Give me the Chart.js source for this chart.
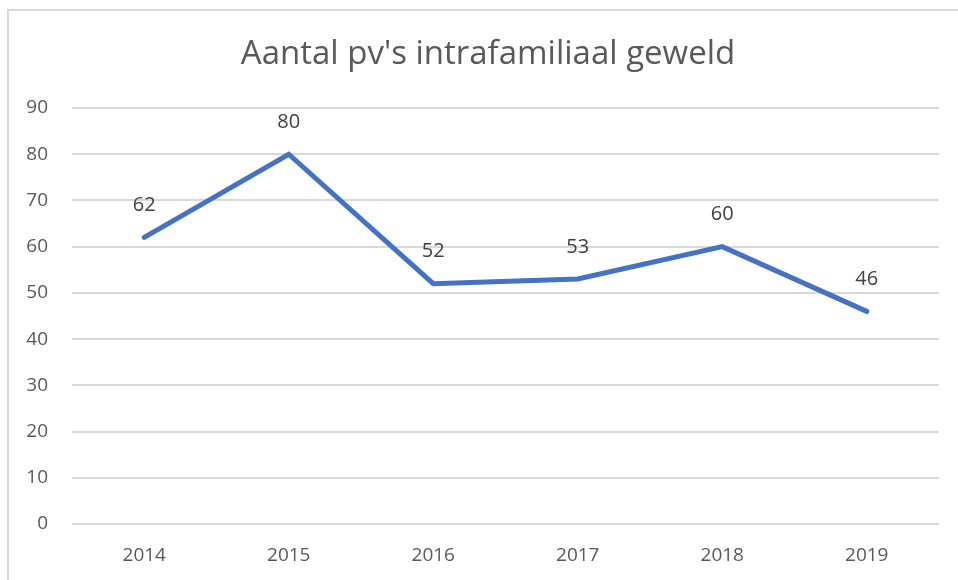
<!DOCTYPE html>
<html>
<head>
<meta charset="utf-8">
<script src="https://cdn.jsdelivr.net/npm/chart.js@4"></script>
<style>
  html, body { margin: 0; padding: 0; background: #fff; overflow: hidden; }
  #wrap { position: relative; width: 958px; height: 580px; }
  #chart { display: block; }
  #frame { position: absolute; left: 7px; top: 9px; width: 1000px; height: 1000px;
           border-top: 2px solid #d9d9d9; border-left: 2px solid #d9d9d9; pointer-events: none; }
</style>
</head>
<body>
<div id="wrap">
  <canvas id="chart" width="958" height="580"></canvas>
  <div id="frame"></div>
</div>
<script>
// Chart data
const chartTitle = "Aantal pv's intrafamiliaal geweld";
const years = ['2014', '2015', '2016', '2017', '2018', '2019'];
const counts = [62, 80, 52, 53, 60, 46];
const yTicks = [0, 10, 20, 30, 40, 50, 60, 70, 80, 90];

const FONT = "'Open Sans', 'DejaVu Sans', sans-serif";

// Title centred on the whole frame, not just the canvas minus padding
const frameTitle = {
  id: 'frameTitle',
  afterDraw(chart) {
    const ctx = chart.ctx;
    ctx.save();
    ctx.font = '33px ' + FONT;
    ctx.fillStyle = '#595959';
    ctx.textAlign = 'center';
    ctx.textBaseline = 'alphabetic';
    ctx.fillText(chartTitle, 488, 64);
    ctx.restore();
  }
};

// Draws the value above each point
const valueLabels = {
  id: 'valueLabels',
  afterDatasetsDraw(chart) {
    const ctx = chart.ctx;
    const meta = chart.getDatasetMeta(0);
    ctx.save();
    ctx.font = '20px ' + FONT;
    ctx.fillStyle = '#404040';
    ctx.textAlign = 'center';
    ctx.textBaseline = 'middle';
    meta.data.forEach((pt, i) => {
      ctx.fillText(String(counts[i]), pt.x, pt.y - 32);
    });
    ctx.restore();
  }
};

const ctx = document.getElementById('chart').getContext('2d');
new Chart(ctx, {
  type: 'line',
  data: {
    labels: years,
    datasets: [{
      data: counts,
      borderColor: '#4472C4',
      borderWidth: 5,
      borderCapStyle: 'round',
      borderJoinStyle: 'miter',
      pointRadius: 0,
      tension: 0,
      fill: false
    }]
  },
  options: {
    responsive: false,
    animation: false,
    layout: { padding: { left: 0, right: 19, top: 108, bottom: 0 } },
    plugins: {
      legend: { display: false },
      tooltip: { enabled: false },
      title: { display: false }
    },
    scales: {
      x: {
        offset: true,
        afterFit(axis) { axis.height = 56; },
        grid: { display: false, drawTicks: false },
        border: { display: false },
        ticks: { color: '#595959', padding: 20, font: { family: FONT, size: 19 } }
      },
      y: {
        min: 0,
        max: 90,
        afterBuildTicks(axis) { axis.ticks = yTicks.map(v => ({ value: v })); },
        afterFit(axis) { axis.width = 72; },
        grid: { color: '#d9d9d9', lineWidth: 2, drawTicks: false },
        border: { display: false },
        ticks: { color: '#595959', padding: 24, font: { family: FONT, size: 19 } }
      }
    }
  },
  plugins: [valueLabels, frameTitle]
});
</script>
</body>
</html>
